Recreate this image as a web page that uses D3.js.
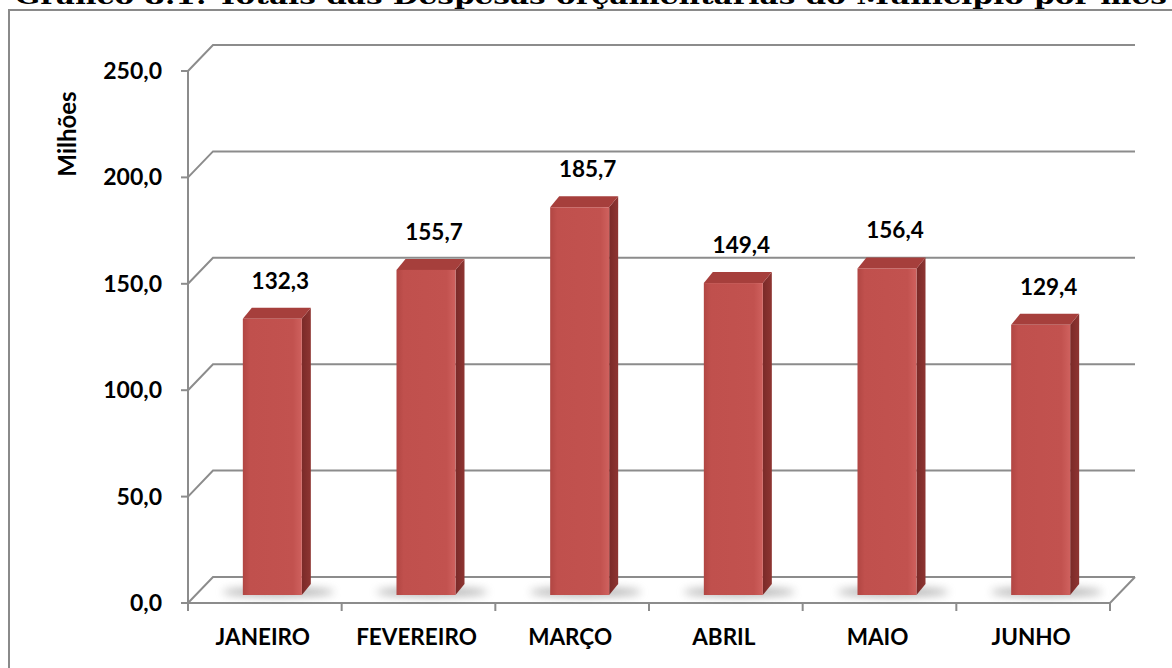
<!doctype html>
<html>
  <head>
    <meta charset="utf-8"/>
    <style>
      body { margin: 0; background: #fff; }
      text { font-family: Lato, "Open Sans", sans-serif; font-weight: bold; fill: #000; }
    </style>
  </head>
  <body>
    <script src="https://cdn.jsdelivr.net/npm/d3@7"></script>
    <script>

      const title = 'Gráfico 8.1: Totais das Despesas orçamentárias do Município por mês';
      const months = ['JANEIRO', 'FEVEREIRO', 'MARÇO', 'ABRIL', 'MAIO', 'JUNHO'];
      const values = [132.3, 155.7, 185.7, 149.4, 156.4, 129.4];
      const yTicks = [0, 50, 100, 150, 200, 250];
      const yLabel = 'Milhões';

      const W = 1172, H = 668;
      const fmt = d3.formatLocale({decimal: ',', thousands: '.', grouping: [3], currency: ['R$', '']}).format('.1f');

      // floor / wall geometry
      const left = 188, right = 1110;
      const wallDx = 25, wallDy = -26;
      const barShift = 7.5, barDrop = -8;   // bars sit a bit behind the front edge
      const depthX = 9, depthY = -11;       // bar's own depth

      const svg = d3.select('body').append('svg')
            .attr('width', W)
            .attr('height', H);

      const defs = svg.append('defs');

      const frontGrad = defs.append('linearGradient').attr('id', 'front');
      frontGrad.append('stop').attr('offset', '0%').attr('stop-color', '#b14643');
      frontGrad.append('stop').attr('offset', '12%').attr('stop-color', '#c0504d');
      frontGrad.append('stop').attr('offset', '85%').attr('stop-color', '#c2524f');
      frontGrad.append('stop').attr('offset', '100%').attr('stop-color', '#cf615e');

      const sideGrad = defs.append('linearGradient').attr('id', 'side');
      sideGrad.append('stop').attr('offset', '0%').attr('stop-color', '#7a2a28');
      sideGrad.append('stop').attr('offset', '100%').attr('stop-color', '#8e3532');

      defs.append('filter').attr('id', 'blur')
        .attr('x', '-50%').attr('y', '-100%').attr('width', '200%').attr('height', '300%')
        .append('feGaussianBlur').attr('stdDeviation', 4);

      // outer frame
      svg.append('rect')
        .attr('x', 9).attr('y', 10)
        .attr('width', W + 20).attr('height', H + 20)
        .attr('fill', 'none')
        .attr('stroke', '#8a8a8a')
        .attr('stroke-width', 2);

      // title, mostly cut by the top edge (as in the source picture)
      svg.append('text')
        .attr('x', 15).attr('y', 4)
        .attr('textLength', 1152)
        .attr('lengthAdjust', 'spacingAndGlyphs')
        .style('font-family', '"DejaVu Serif", serif')
        .style('font-size', '23px')
        .text(title);

      const x = d3.scaleBand().domain(months).range([left, right]);
      const y = d3.scaleLinear().domain([0, 250]).range([603, 71]);
      const yBar = d3.scaleLinear().domain([0, 250]).range([603 + barDrop, 603 + barDrop - 522]);

      const grid = svg.append('g')
            .attr('fill', 'none')
            .attr('stroke', '#8c8c8c')
            .attr('stroke-width', 2);

      // back wall gridlines + side wall diagonals
      grid.selectAll('path.grid')
        .data(yTicks)
        .join('path')
        .attr('class', 'grid')
        .attr('d', d => `M${left},${y(d)}L${left + wallDx},${y(d) + wallDy}L${right + wallDx},${y(d) + wallDy}`);

      // floor
      grid.append('path')
        .attr('d', `M${right + wallDx},${y(0) + wallDy}L${right},${y(0)}L${left},${y(0)}`);

      // value axis line and ticks
      grid.append('path').attr('d', `M${left},${y(250)}V${y(0)}`);
      grid.selectAll('path.ytick')
        .data(yTicks)
        .join('path')
        .attr('class', 'ytick')
        .attr('d', d => `M${left - 7},${y(d)}H${left}`);

      // category ticks
      grid.selectAll('path.xtick')
        .data(d3.range(months.length + 1))
        .join('path')
        .attr('class', 'xtick')
        .attr('d', i => `M${left + i * x.bandwidth()},${y(0)}V${y(0) + 8}`);

      svg.append('g').selectAll('text')
        .data(yTicks)
        .join('text')
        .attr('x', 162)
        .attr('y', d => y(d) + 8)
        .attr('text-anchor', 'end')
        .style('font-size', '23px')
        .text(d => fmt(d));

      svg.append('text')
        .attr('transform', 'translate(76,134) rotate(-90)')
        .attr('text-anchor', 'middle')
        .style('font-size', '24px')
        .text(yLabel);

      svg.append('g').selectAll('text')
        .data(months)
        .join('text')
        .attr('x', d => x(d) + x.bandwidth() / 2 - 2)
        .attr('y', 645)
        .attr('text-anchor', 'middle')
        .style('font-size', '22.5px')
        .text(d => d);

      const barW = 59;
      const bars = svg.append('g').selectAll('g')
            .data(months.map((m, i) => ({m, v: values[i]})))
            .join('g')
            .attr('transform', d => `translate(${x(d.m) + x.bandwidth() / 2 + barShift - barW / 2},0)`);

      // soft shadow on the floor
      bars.append('ellipse')
        .attr('cx', barW / 2 + 6)
        .attr('cy', yBar(0) - 3)
        .attr('rx', barW / 2 + 26)
        .attr('ry', 5)
        .attr('fill', '#7d7d7d')
        .attr('opacity', 0.55)
        .attr('filter', 'url(#blur)');

      bars.append('path')
        .attr('fill', 'url(#side)')
        .attr('d', d => `M${barW},${yBar(d.v)}L${barW + depthX},${yBar(d.v) + depthY}V${yBar(0) + depthY}L${barW},${yBar(0)}Z`);

      bars.append('path')
        .attr('fill', '#a63f3c')
        .attr('d', d => `M0,${yBar(d.v)}L${depthX},${yBar(d.v) + depthY}H${barW + depthX}L${barW},${yBar(d.v)}Z`);

      bars.append('rect')
        .attr('x', 0)
        .attr('y', d => yBar(d.v))
        .attr('width', barW)
        .attr('height', d => yBar(0) - yBar(d.v))
        .attr('fill', 'url(#front)');

      bars.append('text')
        .attr('x', barW / 2 + 8)
        .attr('y', d => yBar(d.v) + depthY - 19)
        .attr('text-anchor', 'middle')
        .style('font-size', '22.5px')
        .text(d => fmt(d.v));

    </script>
  </body>
</html>
